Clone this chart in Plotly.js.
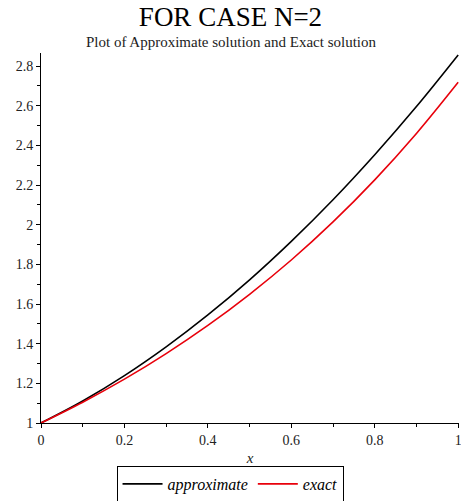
<!DOCTYPE html>
<html>
<head>
<meta charset="utf-8">
<script src="https://cdn.plot.ly/plotly-3.0.1.min.js"></script>
<style>html,body{margin:0;padding:0;background:#fff;}#chart{width:461px;height:501px;}</style>
</head>
<body>
<div id="chart"></div>
<script>
const xValues = [0, 0.1, 0.2, 0.3, 0.4, 0.5, 0.6, 0.7, 0.8, 0.9, 1.0];
const approximate = [1.000, 1.111, 1.239, 1.384, 1.545, 1.722, 1.916, 2.126, 2.353, 2.596, 2.856];
const exact = [1.000, 1.105, 1.221, 1.350, 1.492, 1.649, 1.822, 2.014, 2.226, 2.460, 2.718];
const yTicks = [1, 1.2, 1.4, 1.6, 1.8, 2, 2.2, 2.4, 2.6, 2.8];
const xTicks = [0, 0.2, 0.4, 0.6, 0.8, 1];

const serif = "Liberation Serif";

const traces = [
  {x: xValues, y: approximate, type: 'scatter', mode: 'lines', name: 'approximate',
   line: {color: '#000000', width: 1.6, shape: 'spline'}},
  {x: xValues, y: exact, type: 'scatter', mode: 'lines', name: 'exact',
   line: {color: '#e8000b', width: 1.6, shape: 'spline'}}
];

const layout = {
  width: 461, height: 501,
  font: {family: serif, size: 14, color: '#222'},
  margin: {l: 41, r: 2, t: 53, b: 78},
  paper_bgcolor: '#ffffff', plot_bgcolor: '#ffffff',
  title: {text: 'FOR CASE N=2', font: {family: serif, size: 27, color: '#000'},
          x: 0.5, xanchor: 'center', y: 0.966, yanchor: 'middle', yref: 'container'},
  annotations: [{text: 'Plot of Approximate solution and Exact solution', xref: 'paper', yref: 'paper',
    x: 0.455, y: 1.004, xanchor: 'center', yanchor: 'bottom', showarrow: false,
    font: {family: serif, size: 15, color: '#222'}}],
  showlegend: true,
  legend: {orientation: 'h', xref: 'container', yref: 'container',
           x: 0.499, xanchor: 'center', y: 0.034, yanchor: 'middle',
           bordercolor: '#000', borderwidth: 1, bgcolor: '#fff',
           font: {family: serif, size: 16, color: '#000', style: 'italic'},
           itemwidth: 40, tracegroupgap: 0, valign: 'middle'},
  xaxis: {range: [0, 1.002], tickvals: xTicks, ticktext: xTicks.map(String),
    showgrid: false, zeroline: false, showline: true, linecolor: '#000', linewidth: 1,
    ticks: 'outside', ticklen: 4, tickcolor: '#000', ticklabeloverflow: 'allow',
    minor: {dtick: 0.1, ticks: 'outside', ticklen: 3, tickcolor: '#000'},
    tickfont: {family: serif, size: 14, color: '#222'},
    title: {text: 'x', font: {family: serif, size: 15, color: '#222', style: 'italic'}, standoff: 10}},
  yaxis: {range: [1, 2.866], tickvals: yTicks, ticktext: yTicks.map(String),
    showgrid: false, zeroline: false, showline: true, linecolor: '#000', linewidth: 1,
    ticks: 'outside', ticklen: 4, tickcolor: '#000', ticklabeloverflow: 'allow',
    minor: {dtick: 0.1, ticks: 'outside', ticklen: 3, tickcolor: '#000'},
    tickfont: {family: serif, size: 14, color: '#222'}}
};

Plotly.newPlot('chart', traces, layout, {displayModeBar: false, staticPlot: true});
</script>
</body>
</html>
